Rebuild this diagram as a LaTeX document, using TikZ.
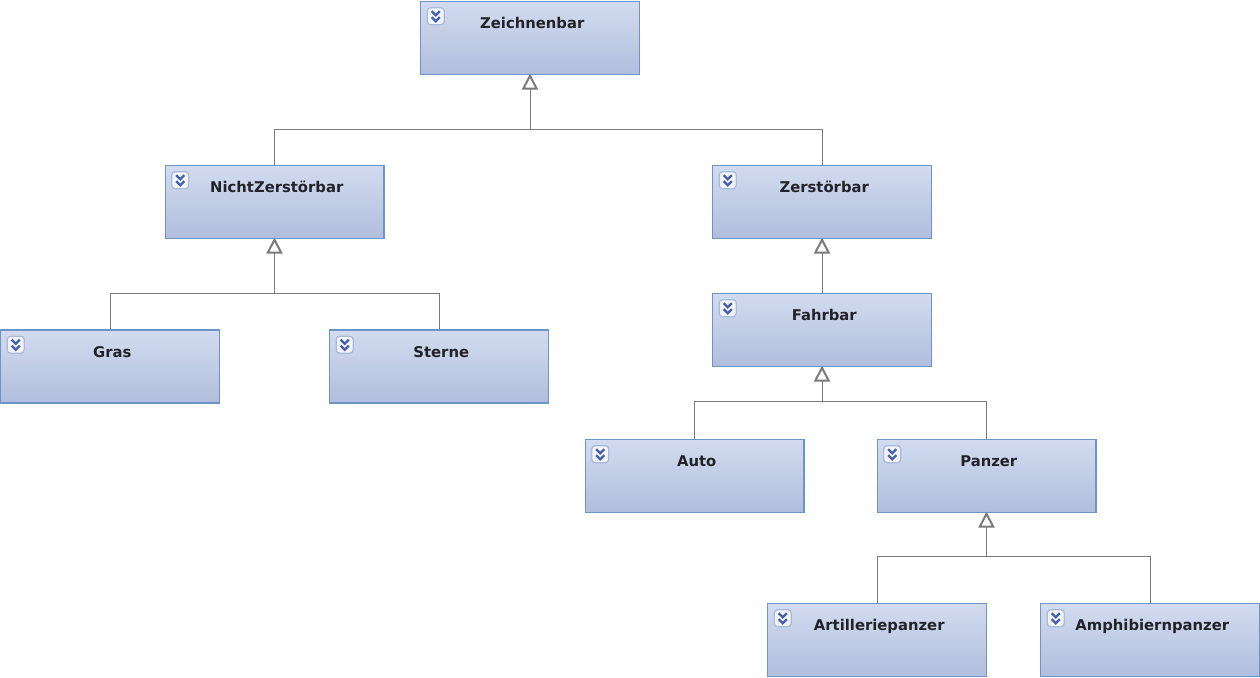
\documentclass[tikz,border=0pt]{standalone}
\usepackage{fontspec}
\setmainfont{DejaVu Sans}
\usetikzlibrary{arrows.meta}
\definecolor{boxtop}{HTML}{D2DBEF}
\definecolor{boxbottom}{HTML}{B1BEDC}
\definecolor{boxline}{HTML}{6C94C8}
\definecolor{iconline}{HTML}{A9BBDC}
\definecolor{iconmark}{HTML}{4460A8}
\definecolor{linkline}{HTML}{7A7A7A}
\definecolor{namecolor}{HTML}{222328}
\tikzset{
classbox/.style={
  rectangle,
  draw=boxline,
  line width=1pt,
  top color=boxtop,
  bottom color=boxbottom,
  minimum width=164pt,
  minimum height=54.7pt,
  inner sep=0pt
},
classname/.style={
  font=\bfseries\fontsize{11.1pt}{13pt}\selectfont,
  text=namecolor,
  anchor=base,
  inner sep=0pt
},
buslink/.style={draw=linkline, line width=0.75pt},
inherit/.style={
  buslink,
  shorten >=-1.2pt,
  -{Triangle[open,length=12pt,width=12pt,line width=1.5pt]}
},
pics/expander/.style={code={
  \draw[iconline, fill=white, fill opacity=0.75, line width=1pt, rounded corners=2.5pt]
    (-8.5,-8.5) rectangle (8.5,8.5);
  \draw[iconmark, line width=1.7pt] (-4,-5) -- (0,-1) -- (4,-5);
  \draw[iconmark, line width=1.7pt] (-4,1) -- (0,5) -- (4,1);
}}
}
\begin{document}
\begin{tikzpicture}[x=0.75pt,y=-0.75pt]
\useasboundingbox (0,0) rectangle (1260,678);
% the classes
\foreach \cname/\cx/\cy/\ctext in {
  zeichnen/530/38/Zeichnenbar,
  nicht/274.5/202/NichtZerstörbar,
  zerst/822/202/Zerstörbar,
  gras/110/366.5/Gras,
  sterne/439/366.5/Sterne,
  fahr/822/330/Fahrbar,
  auto/694.5/476/Auto,
  panzer/986.5/476/Panzer,
  artillerie/877/640/Artilleriepanzer,
  amphibien/1150/640/Amphibiernpanzer}
{
  \node (\cname) [classbox] at (\cx,\cy) {};
  \node (\cname-text) [classname] at ([xshift=1.7pt,yshift=-21pt]\cname.north) {\ctext};
  \pic at ([xshift=11.8pt,yshift=-11.5pt]\cname.north west) {expander};
}
% the bus points
\coordinate (busa) at (530,129);
\coordinate (busb) at (274.5,293);
\coordinate (busc) at (822,401);
\coordinate (busd) at (986.5,556);
% the arrows
\draw[inherit] (busa) -- (zeichnen.south);
\draw[inherit] (busb) -- (nicht.south);
\draw[inherit] (fahr.north) -- (zerst.south);
\draw[inherit] (busc) -- (fahr.south);
\draw[inherit] (busd) -- (panzer.south);
% the rules
\foreach \ckid/\cbus in {nicht/busa,zerst/busa,gras/busb,sterne/busb,auto/busc,panzer/busc,artillerie/busd,amphibien/busd}
{
  \draw[buslink] (\ckid.north) |- (\cbus);
}
\end{tikzpicture}
\end{document}
